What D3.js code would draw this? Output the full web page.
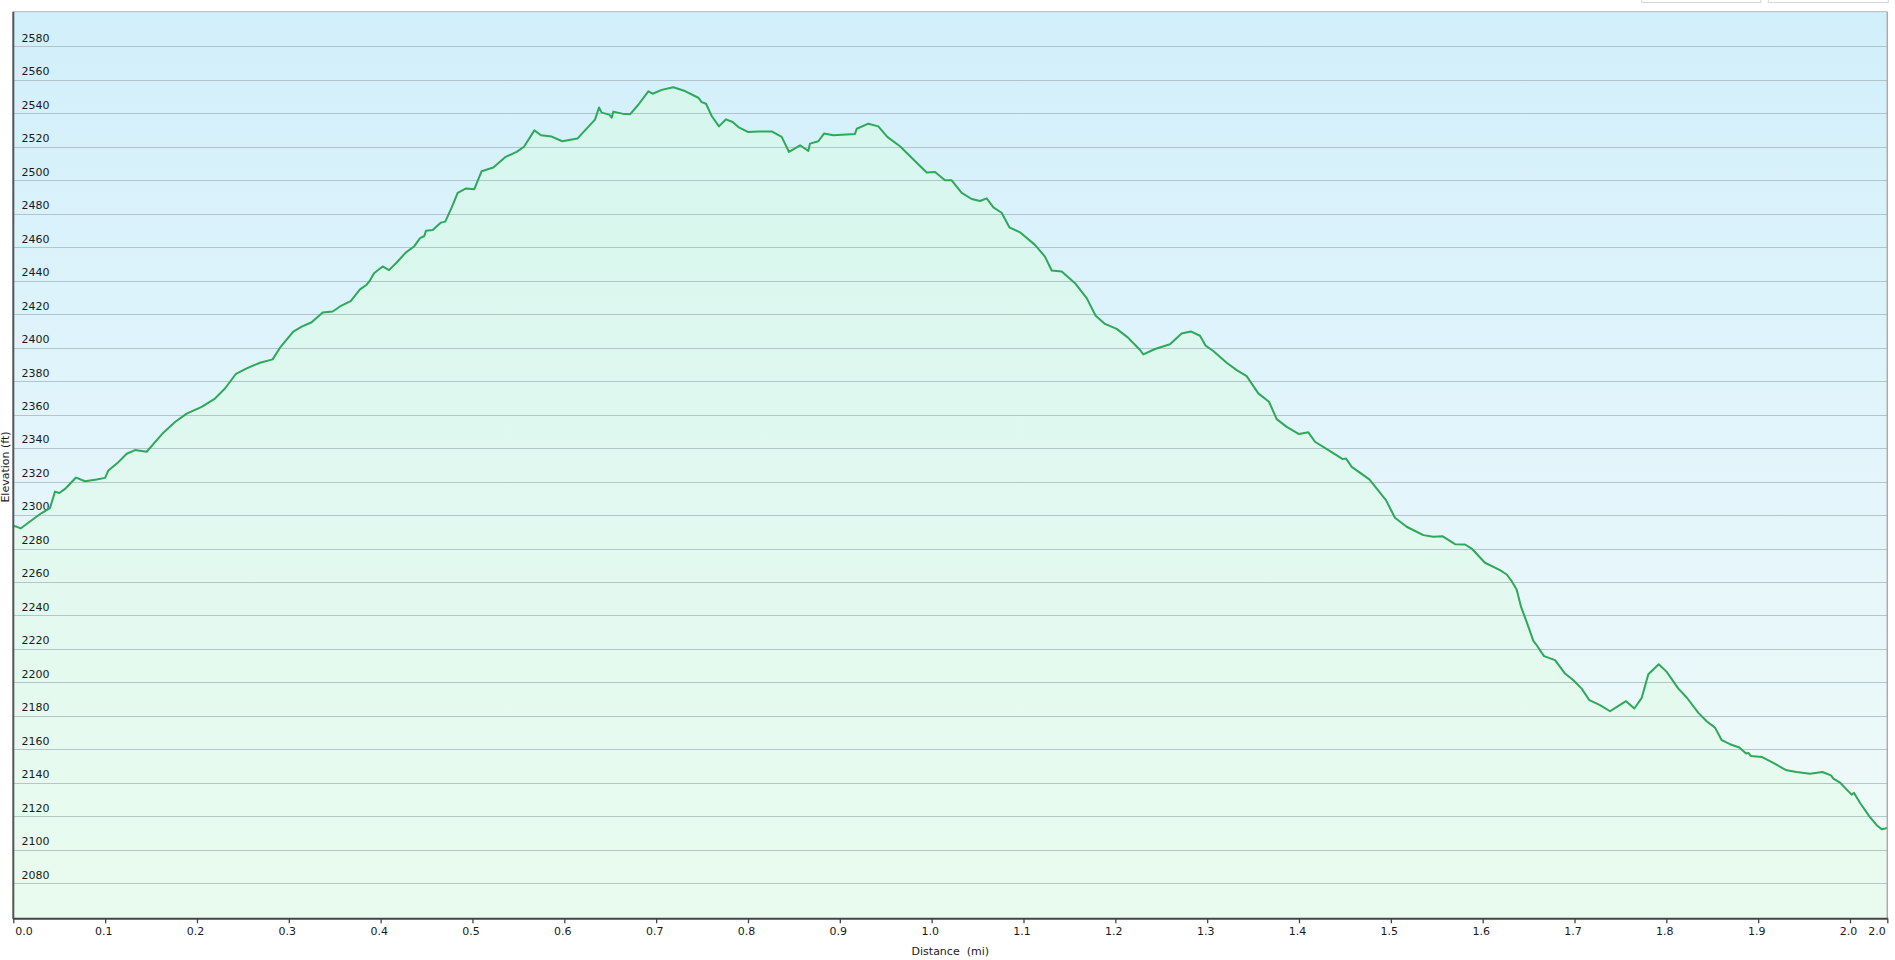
<!DOCTYPE html>
<html><head><meta charset="utf-8">
<script src="https://cdn.jsdelivr.net/npm/d3@7"></script>
<style>html,body{margin:0;padding:0;background:#fff;overflow:hidden}</style>
</head><body>
<svg id="chart" width="1895" height="960"></svg>
<script>
// ---- data ----
const distance = [0.0000,0.0026,0.0080,0.0218,0.0309,0.0400,0.0454,0.0501,0.0563,0.0683,0.0781,0.0908,0.0999,0.1035,0.1144,0.1235,0.1325,0.1452,0.1634,0.1761,0.1888,0.2051,0.2196,0.2305,0.2425,0.2541,0.2686,0.2824,0.2904,0.3049,0.3140,0.3249,0.3369,0.3478,0.3557,0.3674,0.3775,0.3848,
0.3884,0.3928,0.4022,0.4091,0.4175,0.4273,0.4363,0.4429,0.4476,0.4494,0.4567,0.4657,0.4704,0.4774,0.4839,0.4930,0.5020,0.5100,0.5227,0.5362,0.5481,0.5561,0.5674,0.5746,0.5862,0.5978,0.6142,0.6334,0.6378,0.6407,0.6490,0.6516,0.6534,0.6632,0.6715,0.6806,0.6915,0.6962,0.7060,0.7187,0.7314,0.7459,0.7496,0.7543,0.7605,0.7684,0.7761,0.7833,0.7895,0.8004,
0.8113,0.8258,0.8367,0.8447,0.8567,0.8657,0.8675,0.8766,0.8828,0.8929,0.9165,0.9184,0.9311,0.9419,0.9517,0.9655,0.9801,0.9946,1.0037,1.0145,1.0218,1.0327,1.0436,1.0527,1.0599,1.0672,1.0762,1.0846,1.0962,1.1125,1.1234,1.1307,1.1416,1.1561,1.1688,1.1786,1.1887,1.2015,1.2138,
1.2269,1.2305,1.2432,1.2595,1.2722,1.2821,1.2922,1.2984,1.3067,1.3212,1.3322,1.3430,1.3557,1.3673,1.3757,1.3866,1.4000,1.4102,1.4174,1.4338,1.4476,1.4512,1.4574,1.4766,1.4947,1.5045,1.5172,1.5354,1.5463,1.5561,1.5699,1.5808,1.5880,1.6025,1.6189,
1.6262,1.6316,1.6370,1.6418,1.6472,1.6552,1.6581,1.6668,1.6788,1.6897,1.6988,1.7078,1.7162,1.7278,1.7387,1.7478,1.7561,1.7652,1.7732,1.7804,1.7917,1.8004,1.8131,1.8222,1.8349,1.8439,1.8530,1.8603,1.8693,1.8795,1.8868,1.8893,1.8919,1.9038,1.9165,1.9310,1.9419,1.9564,1.9699,1.9793,1.9819,1.9891,1.9964,2.0018,2.0044,2.0110,2.0211,2.0291,2.0345,2.0382,2.0406];

const elevation = [2293.6,2293.2,2292,2297.6,2301.2,2304.2,2314,2313.2,2315.6,2322.4,2320.2,2321.2,2322.2,2326.6,2331.6,2336.6,2338.8,2337.8,2349.2,2355.6,2360.6,2364.6,2369.6,2375.6,2384.4,2387.6,2391,2393,2400,2409.6,2412.6,2415.2,2421,2421.6,2424.6,2427.8,2434.8,2437.6,
2440.2,2444.5,2448.5,2446.3,2450.9,2456.8,2460.4,2465.4,2466.7,2469.9,2470.3,2474.7,2475.3,2483.8,2492.5,2495.1,2494.7,2505.4,2507.6,2514,2517,2520,2529.8,2526.9,2526.1,2523.3,2524.9,2536.2,2543.5,2540.4,2539.2,2537.4,2541,2539.8,2539.4,2545.1,2553.1,2551.7,2554,2555.6,2553.3,2549.3,2546.7,2545.7,2538.4,2532.2,2536.4,2534.8,2531.8,2528.8,
2529.2,2529.2,2525.9,2516.9,2520.9,2517.5,2521.9,2523.3,2527.9,2526.9,2527.7,2530.8,2533.8,2532.2,2525.9,2520.3,2512.4,2504.6,2505,2500,2500,2492.5,2488.8,2487.6,2489.2,2483.8,2480.6,2471.9,2468.9,2461.4,2454.4,2446.1,2445.5,2438.5,2429.6,2419.1,2414.2,2411.2,2406,
2398.6,2396,2399.2,2402,2408.5,2409.7,2407.1,2401.2,2398,2391,2386.6,2383,2372.7,2367.7,2357.3,2352.7,2348.4,2349.4,2343.8,2338.2,2333.4,2333.8,2328.8,2321.3,2308.9,2298.4,2293,2288,2287,2287.4,2282.6,2282.4,2280,2271.5,2267.1,
2264.5,2260.5,2255.5,2245.1,2237.2,2224.8,2222.8,2215.7,2213.3,2205.3,2201.3,2196.3,2189.4,2186.4,2182.8,2186,2188.8,2184.4,2190.8,2204.9,2210.9,2206.3,2196.3,2191,2181.8,2176.8,2173,2165.5,2163.1,2161.1,2157.5,2157.9,2156.1,2155.5,2151.9,2147.5,2146.5,2145.5,2146.5,2144.5,2142.5,2140.2,2136,2133,2134,2128,2120,2114.7,2112.3,2112.7,2113];

const yTickValues = [2080,2100,2120,2140,2160,2180,2200,2220,2240,2260,2280,2300,2320,2340,2360,2380,2400,2420,2440,2460,2480,2500,2520,2540,2560,2580];
const xTickValues = [0.0,0.1,0.2,0.3,0.4,0.5,0.6,0.7,0.8,0.9,1.0,1.1,1.2,1.3,1.4,1.5,1.6,1.7,1.8,1.9,2.0,2.0406];
const xTickLabels = ["0.0","0.1","0.2","0.3","0.4","0.5","0.6","0.7","0.8","0.9","1.0","1.1","1.2","1.3","1.4","1.5","1.6","1.7","1.8","1.9","2.0","2.0"];
const xDomain = [0, 2.0406];
const yDomain = [2059.1, 2600.7];
const xTitle = "Distance\u00a0 (mi)";
const yTitle = "Elevation (ft)";

// ---- layout ----
const L = 13.3, R = 1887.3, T = 11.7, B = 918.3;
const FONT = "'DejaVu Sans', Verdana, sans-serif";

const svg = d3.select("#chart");
const x = d3.scaleLinear().domain(xDomain).range([L, R]);
const y = d3.scaleLinear().domain(yDomain).range([B, T]);
const data = distance.map((d, i) => ({d, e: elevation[i]}));

const defs = svg.append("defs");
const bg = defs.append("linearGradient").attr("id", "bg").attr("x1", 0).attr("y1", 0).attr("x2", 0).attr("y2", 1);
bg.append("stop").attr("offset", "0%").attr("stop-color", "#d1effa");
bg.append("stop").attr("offset", "50%").attr("stop-color", "#e3f5fb");
bg.append("stop").attr("offset", "100%").attr("stop-color", "#f0fbf6");
const fg = defs.append("linearGradient").attr("id", "fillg").attr("x1", 0).attr("y1", 0).attr("x2", 0).attr("y2", 1)
  .attr("gradientUnits", "userSpaceOnUse").attr("y1", T).attr("y2", B);
fg.append("stop").attr("offset", "0%").attr("stop-color", "#d6fbe2").attr("stop-opacity", 0.55);
fg.append("stop").attr("offset", "100%").attr("stop-color", "#e4fbe9").attr("stop-opacity", 0.55);

// top-right control boxes (cut off)
[[1641.7, 1760.7], [1768.3, 1888.3]].forEach(([a, b]) => {
  svg.append("rect").attr("x", a).attr("y", -10).attr("width", b - a).attr("height", 12.5)
    .attr("fill", "#fff").attr("stroke", "#d6d6d6").attr("stroke-width", 1);
});

// plot background
svg.append("rect").attr("x", L).attr("y", T).attr("width", R - L).attr("height", B - T).attr("fill", "url(#bg)");

// area
svg.append("path").datum(data)
  .attr("d", d3.area().x(p => x(p.d)).y0(B).y1(p => y(p.e)))
  .attr("fill", "url(#fillg)");

// gridlines
svg.append("g").selectAll("line").data(yTickValues).join("line")
  .attr("x1", L).attr("x2", R)
  .attr("y1", v => Math.round(y(v)) + 0.5).attr("y2", v => Math.round(y(v)) + 0.5)
  .attr("stroke", "#a8b9c0").attr("stroke-opacity", 0.8).attr("stroke-width", 1);

// y tick labels (inside plot)
svg.append("g").selectAll("text").data(yTickValues).join("text")
  .attr("x", 21.5).attr("y", v => y(v) - 4.6)
  .attr("font-family", FONT).attr("font-size", 11).attr("fill", "#1a1a1a")
  .text(v => String(v));

// line
svg.append("path").datum(data)
  .attr("d", d3.line().x(p => x(p.d)).y(p => y(p.e)))
  .attr("fill", "none").attr("stroke", "#2ea85a").attr("stroke-width", 2).attr("stroke-linejoin", "round");

// borders
svg.append("line").attr("x1", L).attr("x2", R).attr("y1", T).attr("y2", T).attr("stroke", "#b4b8ba").attr("stroke-width", 1);
svg.append("line").attr("x1", R).attr("x2", R).attr("y1", T).attr("y2", B).attr("stroke", "#a9acae").attr("stroke-width", 1.5);
svg.append("line").attr("x1", L).attr("x2", L).attr("y1", T).attr("y2", B + 1).attr("stroke", "#555", ).attr("stroke-width", 2);

// x axis
const xAxis = d3.axisBottom(x).tickValues(xTickValues).tickSize(5).tickSizeOuter(0)
  .tickFormat((v, i) => xTickLabels[i]);
const gx = svg.append("g").attr("transform", `translate(0,${B})`).call(xAxis);
gx.select(".domain").attr("stroke", "#444").attr("stroke-width", 2);
gx.selectAll(".tick line").attr("stroke", "#444").attr("stroke-width", 1.3);
gx.selectAll(".tick text").attr("font-family", FONT).attr("font-size", 11).attr("fill", "#1a1a1a")
  .attr("y", 9).attr("dy", "0.71em").attr("dx", -2);
const n = xTickValues.length;
gx.selectAll(".tick text").filter((v, i) => i === 0).attr("text-anchor", "start").attr("dx", 1.5);
gx.selectAll(".tick text").filter((v, i) => i === n - 1).attr("text-anchor", "end").attr("dx", -2);

// axis titles
svg.append("text").attr("x", (L + R) / 2).attr("y", 955)
  .attr("text-anchor", "middle").attr("font-family", FONT).attr("font-size", 11).attr("fill", "#1a1a1a")
  .text(xTitle);
svg.append("text").attr("transform", "translate(8.5,467) rotate(-90)")
  .attr("text-anchor", "middle").attr("font-family", FONT).attr("font-size", 11).attr("fill", "#1a1a1a")
  .text(yTitle);
</script>
</body></html>
